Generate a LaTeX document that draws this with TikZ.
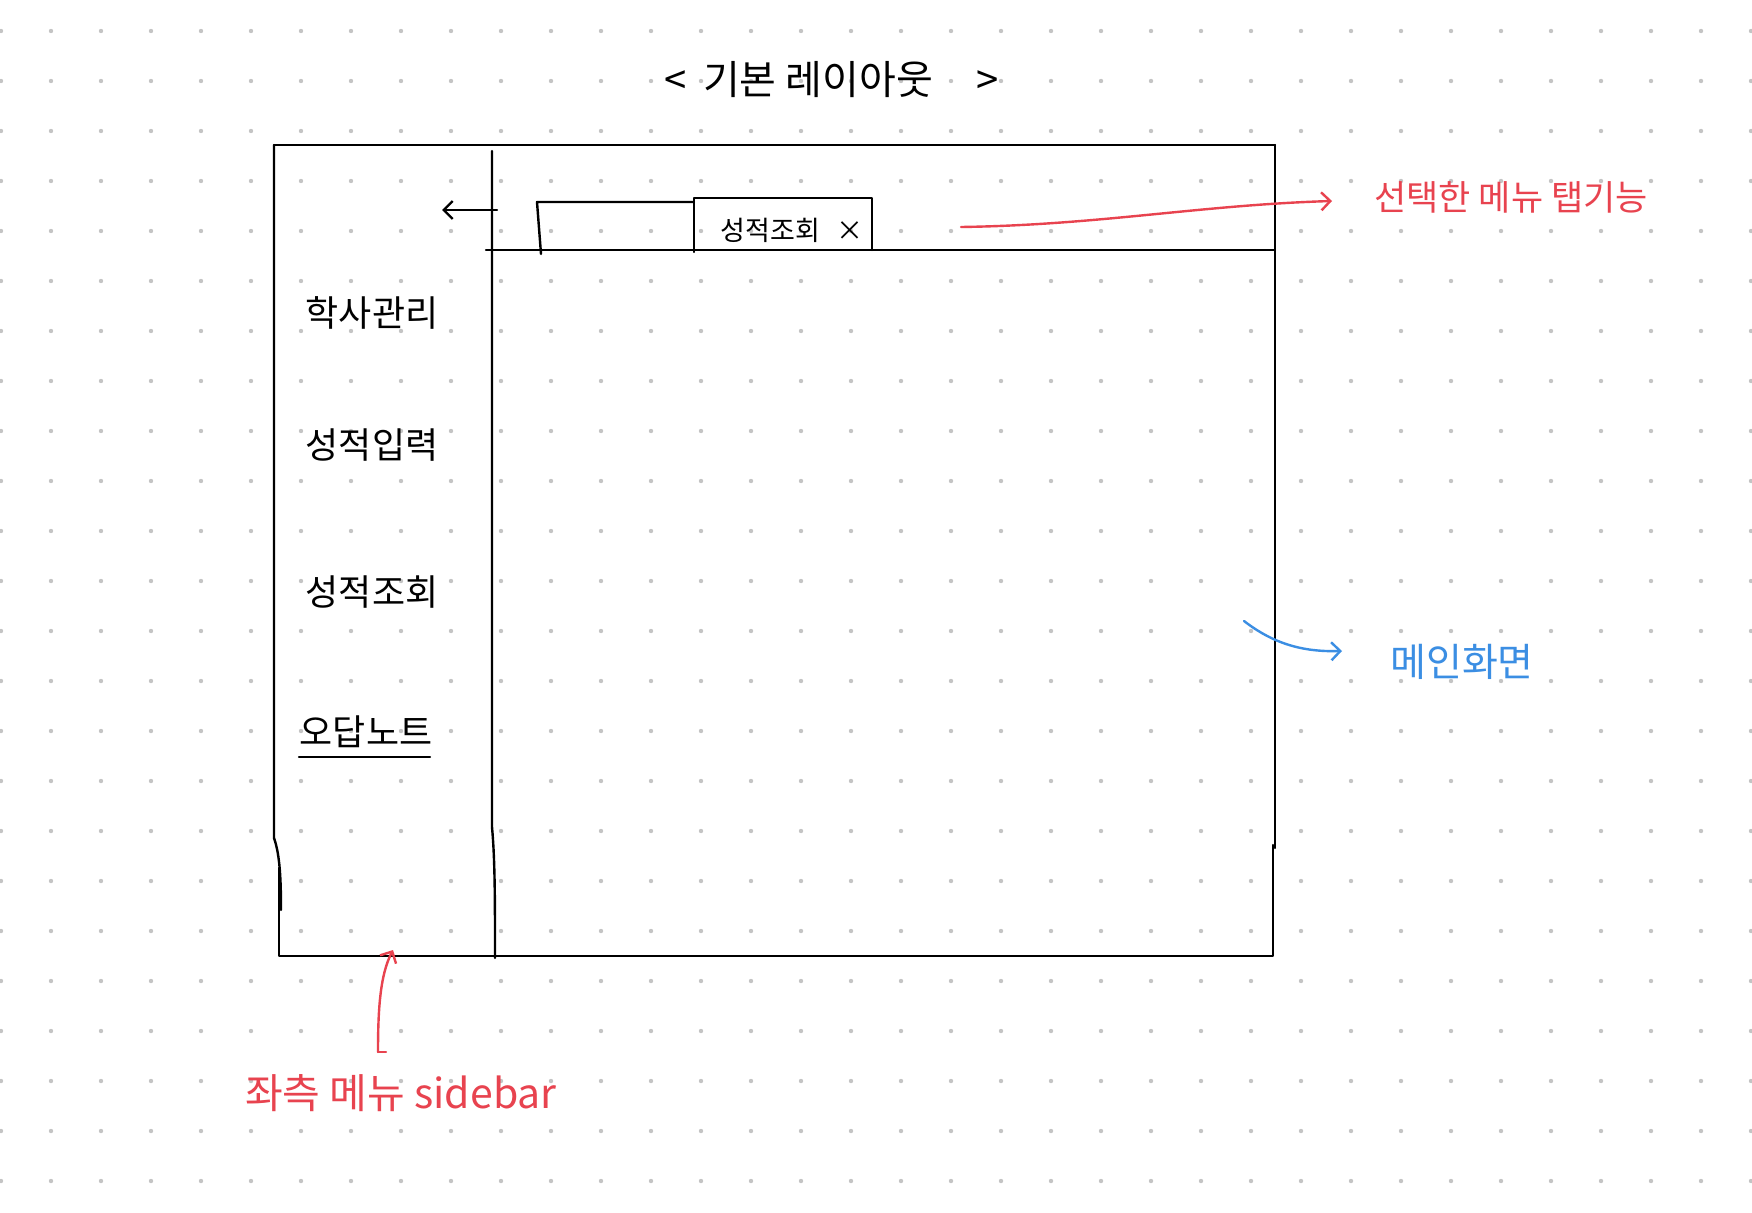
\documentclass[tikz,border=0pt]{standalone}
\usepackage{fontspec}
\newfontfamily\kr{Noto Sans CJK KR}
\usetikzlibrary{arrows.meta}
\definecolor{penred}{HTML}{E8434F}
\definecolor{penblue}{HTML}{3B8EE3}
\definecolor{dotgray}{HTML}{C4C4C4}
\tikzset{
  pen/.style={line width=2.4pt, line cap=round, line join=round, black},
  redpen/.style={line width=2.4pt, line cap=round, penred},
  bluepen/.style={line width=2.4pt, line cap=round, penblue},
  barb/.style={-{Straight Barb[length=9pt,width=18pt,line width=2.4pt]}},
  lbl/.style={inner sep=0pt, font=\kr},
}
\begin{document}
\begin{tikzpicture}[x=1pt,y=-1pt]
\fill[white] (0,0) rectangle (1752,1212);
\useasboundingbox (0,0) rectangle (1752,1212);
% dot grid
\foreach \i in {0,...,35} {
  \foreach \j in {0,...,23} {
    \fill[dotgray] ({1+50*\i},{31+50*\j}) circle (2.2pt);
  }
}
% title
\node[lbl, font=\kr\fontsize{40}{44}\selectfont] (title) at (832,80) {<\hspace{0.4em}기본 레이아웃\hspace{1.1em}>};
% outer frame
\draw[pen] (274,145) -- (1275,145);
\draw[pen] (274,145) -- (274,838) .. controls (280,855) and (281,880) .. (281,910);
\draw[pen] (279,868) -- (279,956) -- (1273,956) -- (1273,845);
\draw[pen] (1275,145) -- (1275,848);
% sidebar divider
\draw[pen] (492,151) -- (492,827) .. controls (495,860) and (495,900) .. (495,958);
% top bar line
\draw[pen] (486,250) -- (1275,250);
% tabs
\draw[pen] (541,254) -- (537,202) -- (694,202);
\draw[pen] (694,252) -- (694,198) -- (872,198) -- (872,250);
\node[lbl, font=\kr\fontsize{27}{30}\selectfont] (tabtext) at (792,230) {성적조회\hspace{0.6em}×};
% left arrow (collapse)
\coordinate (colA) at (497,210);
\coordinate (colB) at (442,210);
\draw[pen, barb] (colA) -- (colB);
% sidebar menu
\node[lbl, font=\kr\fontsize{36}{40}\selectfont] (menu1) at (372,313) {학사관리};
\node[lbl, font=\kr\fontsize{36}{40}\selectfont] (menu2) at (372,445) {성적입력};
\node[lbl, font=\kr\fontsize{36}{40}\selectfont] (menu3) at (372,592) {성적조회};
\node[lbl, font=\kr\fontsize{36}{40}\selectfont] (menu4) at (366,732) {오답노트};
\draw[pen] (299,757) -- (430,757);
% red tab annotation
\node[lbl, penred, font=\kr\fontsize{35}{38}\selectfont] (redlabel) at (1511,197) {선택한 메뉴 탭기능};
\coordinate (tabA) at (961,227);
\coordinate (tabB) at (1332,201);
\draw[redpen, barb] (tabA) .. controls (1100,225) and (1200,205) .. (tabB);
% blue main annotation
\node[lbl, penblue, font=\kr\fontsize{39}{42}\selectfont] (bluelabel) at (1462,662) {메인화면};
\coordinate (mainA) at (1244,621);
\coordinate (mainB) at (1342,651);
\draw[bluepen, barb] (mainA) .. controls (1275,645) and (1305,652) .. (mainB);
% red sidebar annotation
\node[lbl, penred, font=\kr\fontsize{41}{44}\selectfont] (sidelabel) at (401,1093) {좌측 메뉴 sidebar};
\coordinate (sideA) at (386,1052);
\coordinate (sideB) at (393,950);
\draw[redpen] (sideA) -- (378,1052);
\draw[redpen, barb] (378,1052) .. controls (378,1010) and (380,975) .. (sideB);
\end{tikzpicture}
\end{document}
